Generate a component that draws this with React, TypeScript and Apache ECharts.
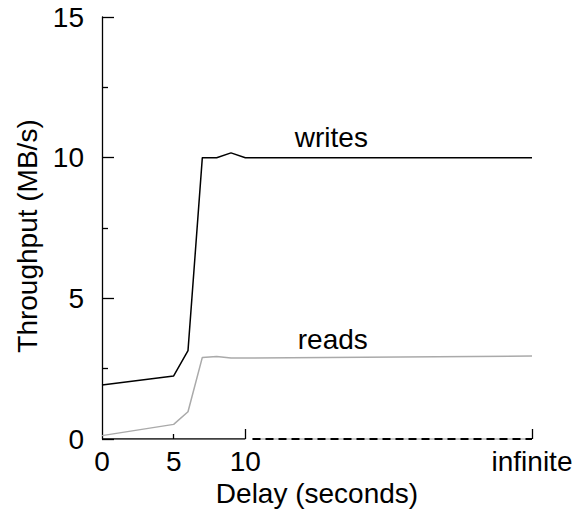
import React, { useEffect, useRef } from "react";
import * as echarts from "echarts";

const delays = [0, 5, 6, 7, 8, 9, 10, 30];
const writes = [1.92, 2.24, 3.14, 10.0, 10.0, 10.17, 10.0, 10.0];
const reads = [0.12, 0.52, 0.97, 2.9, 2.93, 2.88, 2.88, 2.95];
const xLabelValues = [0, 5, 10, 30];
const xLabelTexts: Record<number, string> = { 0: "0", 5: "5", 10: "10", 30: "infinite" };
const solidAxisSpan = [0, 10];
const dashedAxisSpan = [10.5, 30];
const writesLabelPos = [16.0, 10.7];
const readsLabelPos = [16.1, 3.52];

const FONT = "'Liberation Sans', Arial, Helvetica, sans-serif";
const FS = 28;

export default function App() {
  const ref = useRef<HTMLDivElement>(null);
  useEffect(() => {
    if (!ref.current) return;
    const chart = echarts.init(ref.current, undefined, { renderer: "svg" });
    const pair = (xs: number[], ys: number[]) => xs.map((x, i) => [x, ys[i]]);
    chart.setOption({
      animation: false,
      backgroundColor: "#fff",
      textStyle: { fontFamily: FONT },
      grid: { left: 102, right: 44, top: 17, bottom: 77 },
      xAxis: [
        {
          type: "value",
          min: 0,
          max: 30,
          interval: 5,
          name: "Delay (seconds)",
          nameLocation: "middle",
          nameGap: 36,
          nameTextStyle: { fontSize: FS, color: "#000", fontFamily: FONT },
          axisLine: { show: false },
          splitLine: { show: false },
          axisTick: {
            show: true,
            inside: true,
            length: 10,
            customValues: [10, 30],
            lineStyle: { color: "#000", width: 1.3 },
          },
          axisLabel: {
            customValues: xLabelValues,
            formatter: (v: number) => xLabelTexts[v] ?? "",
            fontSize: FS,
            color: "#000",
            margin: 8,
            fontFamily: FONT,
          },
        },
        {
          type: "value",
          min: 0,
          max: 30,
          interval: 5,
          axisLine: { show: false },
          splitLine: { show: false },
          axisLabel: { show: false },
          axisTick: {
            show: true,
            inside: true,
            length: 5,
            customValues: [5],
            lineStyle: { color: "#000", width: 1.3 },
          },
          position: "bottom",
        },
      ],
      yAxis: {
        type: "value",
        min: 0,
        max: 15,
        interval: 5,
        name: "Throughput (MB/s)",
        nameLocation: "middle",
        nameGap: 60,
        nameTextStyle: { fontSize: FS, color: "#000", fontFamily: FONT, padding: [0, 16, 0, 0] },
        axisLine: { show: true, lineStyle: { color: "#000", width: 1.3 } },
        splitLine: { show: false },
        axisTick: { show: true, inside: true, length: 12, lineStyle: { color: "#000", width: 1.3 } },
        minorTick: { show: true, splitNumber: 2, length: 6, lineStyle: { color: "#000", width: 1.3 } },
        axisLabel: { fontSize: FS, color: "#000", margin: 18, fontFamily: FONT },
      },
      series: [
        {
          name: "axisSolid",
          type: "line",
          data: solidAxisSpan.map((x) => [x, 0]),
          symbol: "none",
          silent: true,
          lineStyle: { color: "#000", width: 1.6 },
        },
        {
          name: "axisGrey",
          type: "line",
          data: dashedAxisSpan.map((x) => [x, 0]),
          symbol: "none",
          silent: true,
          lineStyle: { color: "#c8c8c8", width: 1.8 },
        },
        {
          name: "axisDashed",
          type: "line",
          data: dashedAxisSpan.map((x) => [x, 0]),
          symbol: "none",
          silent: true,
          lineStyle: { color: "#000", width: 2, type: [8, 5] },
        },
        {
          name: "reads",
          type: "line",
          data: pair(delays, reads),
          symbol: "none",
          lineStyle: { color: "#aaaaaa", width: 1.5 },
          markPoint: {
            symbol: "circle",
            symbolSize: 0,
            data: [{ coord: readsLabelPos, value: "reads" }],
            label: { show: true, formatter: "reads", color: "#000", fontSize: FS, fontFamily: FONT, position: "inside" },
          },
        },
        {
          name: "writes",
          type: "line",
          data: pair(delays, writes),
          symbol: "none",
          lineStyle: { color: "#000", width: 1.5 },
          markPoint: {
            symbol: "circle",
            symbolSize: 0,
            data: [{ coord: writesLabelPos, value: "writes" }],
            label: { show: true, formatter: "writes", color: "#000", fontSize: FS, fontFamily: FONT, position: "inside" },
          },
        },
      ],
    });
    return () => chart.dispose();
  }, []);
  return (
    <div
      ref={ref}
      style={{ position: "fixed", left: 0, top: 0, width: 576, height: 516, background: "#fff" }}
    />
  );
}
